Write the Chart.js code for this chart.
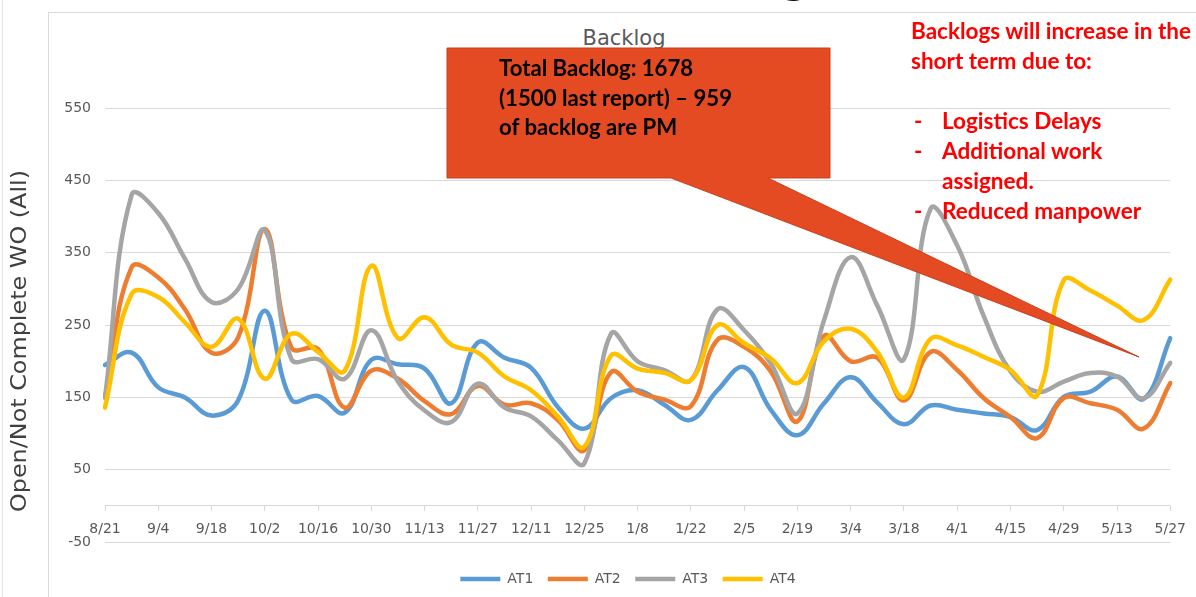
<!DOCTYPE html>
<html>
<head>
<meta charset="utf-8">
<script src="https://cdn.jsdelivr.net/npm/chart.js@4.4.1/dist/chart.umd.min.js"></script>
<style>
  body { margin: 0; background: #fff; }
  #wrap { position: relative; width: 1196px; height: 597px; overflow: hidden; background: #fff; }
  #chart { position: absolute; left: 0; top: 0; }
  .frame { position: absolute; left: 48px; top: 12px; right: -4px; bottom: -4px;
           border-left: 1px solid #d9d9d9; border-top: 1px solid #d9d9d9; }
  .edge { position: absolute; left: 2px; top: 0; bottom: 0; width: 1px; background: #e3e3e3; }
  .slide-title { position: absolute; top: -69px; right: 386px; font: bold 60px Lato, sans-serif;
                 line-height: 72px; color: #000; white-space: nowrap; }
  .chart-title { position: absolute; left: 624px; top: 26px; transform: translateX(-50%);
                 font: 21px "DejaVu Sans", sans-serif; color: #595959; white-space: nowrap; }
  .ytitle { position: absolute; left: 0; top: 0; transform-origin: 0 0;
            font: 21px "DejaVu Sans", sans-serif; color: #404040; white-space: nowrap; }
  svg { position: absolute; left: 0; top: 0; }
  .t { position: absolute; font: bold 22px Lato, sans-serif; line-height: 30px;
       white-space: nowrap; transform-origin: 0 0; }
  .blk { color: #000; }
  .red { color: #ff0000; }
</style>
</head>
<body>
<div id="wrap">
  <div class="edge"></div>
  <div class="frame"></div>
  <div class="slide-title">Backlog</div>
  <div class="chart-title">Backlog</div>
  <canvas id="chart" width="1196" height="597"></canvas>
  <div id="ytitle" class="ytitle">Open/Not Complete WO (All)</div>

  <svg width="1196" height="597">
    <polygon points="447,48 830,48 830,178 768,178 1139,357 671,178 447,178"
             fill="#e54b22" stroke="#c8401c" stroke-width="1"/>
  </svg>

  <div class="t blk" style="left:499px; top:53px">Total Backlog: 1678</div>
  <div class="t blk" id="calloutRef" style="left:499px; top:83px">(1500 last report) – 959</div>
  <div class="t blk" style="left:499px; top:112px">of backlog are PM</div>

  <div class="t red" id="noteRef" style="left:911px; top:16px">Backlogs will increase in the</div>
  <div class="t red" style="left:911px; top:46px">short term due to:</div>
  <div class="t red" style="left:914px; top:106px">-</div>
  <div class="t red" style="left:942px; top:106px">Logistics Delays</div>
  <div class="t red" style="left:914px; top:136px">-</div>
  <div class="t red" style="left:942px; top:136px">Additional work</div>
  <div class="t red" style="left:942px; top:166px">assigned.</div>
  <div class="t red" style="left:914px; top:196px">-</div>
  <div class="t red" style="left:942px; top:196px">Reduced manpower</div>
</div>

<script>
// weekly dates, only every other one is labelled on the axis
const weeks = ['8/21', '8/28', '9/4', '9/11', '9/18', '9/25', '10/2', '10/9', '10/16', '10/23',
  '10/30', '11/6', '11/13', '11/20', '11/27', '12/4', '12/11', '12/18', '12/25', '1/1',
  '1/8', '1/15', '1/22', '1/29', '2/5', '2/12', '2/19', '2/26', '3/4', '3/11',
  '3/18', '3/25', '4/1', '4/8', '4/15', '4/22', '4/29', '5/6', '5/13', '5/20', '5/27'];

const at1 = [195, 212, 164, 150, 125, 146, 270, 147, 152, 129,
  202, 196, 190, 142, 226, 205, 191, 137, 107, 149,
  160, 140, 119, 160, 192, 133, 98, 142, 178, 143,
  113, 139, 133, 128, 123, 105, 151, 158, 179, 148, 232];

const at2 = [150, 330, 316, 272, 212, 233, 383, 219, 217, 136,
  187, 176, 145, 127, 166, 140, 142, 119, 77, 185,
  158, 147, 138, 230, 220, 186, 117, 235, 200, 205,
  146, 213, 188, 149, 123, 94, 149, 142, 133, 107, 170];

const at3 = [150, 430, 405, 342, 282, 300, 381, 203, 203, 176,
  243, 172, 132, 116, 169, 136, 124, 91, 59, 238,
  200, 188, 174, 272, 243, 197, 128, 257, 344, 277,
  203, 411, 360, 262, 186, 158, 172, 184, 179, 149, 198];

const at4 = [136, 293, 289, 254, 220, 259, 176, 238, 213, 187,
  332, 232, 261, 223, 212, 179, 160, 124, 82, 208,
  190, 184, 174, 250, 225, 204, 170, 228, 245, 213,
  150, 231, 222, 206, 188, 153, 312, 298, 277, 257, 313];

const seriesNames = ['AT1', 'AT2', 'AT3', 'AT4'];
const seriesColors = ['#5B9BD5', '#ED7D31', '#A5A5A5', '#FFC000'];
const yTicks = [-50, 50, 150, 250, 350, 450, 550];

const tickFont = { family: 'DejaVu Sans', size: 14 };
const greyText = '#595959';
const gridGrey = '#D9D9D9';

const datasets = [at1, at2, at3, at4].map((vals, i) => ({
    label: seriesNames[i],
    data: vals,
    borderColor: seriesColors[i],
    backgroundColor: seriesColors[i],
    borderWidth: 4.5,
    borderCapStyle: 'round',
    borderJoinStyle: 'round',
    tension: 0.4,
    pointRadius: 0,
    fill: false,
    order: 3 - i // later series on top, like Excel
}));

new Chart(document.getElementById('chart'), {
    type: 'line',
    data: { labels: weeks, datasets },
    options: {
        responsive: false,
        animation: false,
        layout: { padding: { left: 60, right: 0, top: 72, bottom: 1 } },
        plugins: {
            title: { display: false },
            tooltip: { enabled: false },
            legend: {
                position: 'bottom',
                labels: {
                    usePointStyle: true,
                    pointStyle: 'line',
                    pointStyleWidth: 40,
                    padding: 14.5,
                    color: greyText,
                    font: tickFont,
                    sort: (a, b) => a.datasetIndex - b.datasetIndex
                }
            }
        },
        scales: {
            x: {
                position: { y: 0 },
                offset: false,
                grid: {
                    drawOnChartArea: false,
                    drawTicks: true,
                    tickLength: 5,
                    color: c => (c.index % 2 === 0 ? gridGrey : 'rgba(0,0,0,0)')
                },
                border: { display: true, color: gridGrey, width: 1 },
                ticks: {
                    autoSkip: false,
                    maxRotation: 0,
                    padding: 10,
                    color: greyText,
                    font: tickFont,
                    callback: (v, i) => (i % 2 === 0 ? weeks[i] : '')
                }
            },
            y: {
                min: -71.2,
                max: 600,
                afterFit: s => { s.width = 45; },
                afterBuildTicks: s => { s.ticks = yTicks.map(v => ({ value: v })); },
                grid: { color: gridGrey, lineWidth: 1, drawTicks: false },
                border: { display: false },
                ticks: { padding: 14, color: greyText, font: tickFont }
            },
            // empty strip on the right so the plot stops short of the edge
            spacer: {
                position: 'right',
                grid: { display: false },
                border: { display: false },
                ticks: { display: false },
                afterFit: s => { s.width = 23; }
            }
        }
    }
});

// squeeze the slide texts horizontally to the widths seen in the picture
function squeeze(refId, target, selector) {
    const w = document.getElementById(refId).getBoundingClientRect().width;
    const s = target / w;
    document.querySelectorAll(selector).forEach(el => { el.style.transform = `scaleX(${s})`; });
}
squeeze('calloutRef', 233, '.blk');
squeeze('noteRef', 280, '.red');

const yt = document.getElementById('ytitle');
const ytScale = 342 / yt.getBoundingClientRect().width;
yt.style.transform = `translate(19px, 341px) rotate(-90deg) scaleX(${ytScale}) translate(-50%, -50%)`;
</script>
</body>
</html>
